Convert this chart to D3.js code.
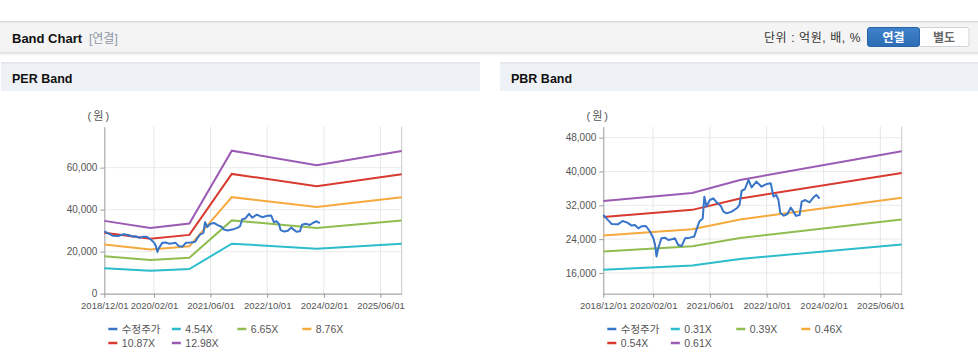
<!DOCTYPE html>
<html><head><meta charset="utf-8">
<script src="https://cdn.jsdelivr.net/npm/d3@7/dist/d3.min.js"></script>
<style>
body{margin:0;background:#fff;font-family:"Liberation Sans","Noto Sans CJK KR",sans-serif;}
svg{display:block}
</style></head><body>
<svg id="c" width="978" height="361"></svg>
<script>
// ---------- data ----------
const tickDates = ["2018-12-01","2020-02-01","2021-06-01","2022-10-01","2024-02-01","2025-06-01"];
const tickLabels = ["2018/12/01","2020/02/01","2021/06/01","2022/10/01","2024/02/01","2025/06/01"];

const priceDates = ["2018-12-01","2018-12-28","2019-02-10","2019-04-05","2019-05-15","2019-06-25","2019-08-01","2019-08-28","2019-09-28","2019-10-25","2019-12-01","2020-01-05","2020-02-03","2020-02-18","2020-03-01","2020-03-15","2020-04-12","2020-05-12","2020-06-10","2020-07-10","2020-08-05","2020-09-03","2020-10-03","2020-11-01","2020-12-12","2021-01-18","2021-02-10","2021-03-03","2021-04-01","2021-04-15","2021-05-03","2021-06-01","2021-07-01","2021-08-01","2021-09-03","2021-09-25","2021-10-25","2021-12-05","2022-01-18","2022-02-10","2022-03-01","2022-03-28","2022-04-28","2022-05-25","2022-07-05","2022-08-18","2022-10-03","2022-11-05","2022-11-28","2022-12-22","2023-01-10","2023-01-25","2023-02-25","2023-03-28","2023-04-25","2023-05-18","2023-06-10","2023-07-10","2023-07-28","2023-08-28","2023-10-03","2023-11-06","2023-12-01","2023-12-28"];
const priceValues = [29700,28900,27600,27500,28300,27900,27200,27350,26550,27050,27100,25800,24200,22600,19900,21800,24200,24350,23800,23950,24200,22600,22400,24200,24350,24600,26550,28150,28900,34050,31700,33250,33650,32650,31850,30500,30100,30500,31300,32100,35450,35800,38000,36250,37600,36400,37050,37200,34050,34450,33250,30250,29550,29950,31450,30500,29500,29700,32850,33250,32700,33900,34450,33600];

const perBandDates = ["2018-12-01","2020-01-01","2020-12-01","2021-12-01","2023-12-01","2025-12-01"];
const per454  = [12122,10919,11691,23812,21383,23767];
const per665  = [17756,15993,17124,34879,31322,34813];
const per876  = [23389,21068,22557,45946,41260,45859];
const per1087 = [29023,26142,27990,57013,51198,56904];
const per1298 = [34657,31217,33424,68080,61136,67950];
const perNames = ["수정주가","4.54X","6.65X","8.76X","10.87X","12.98X"];
const perTicks = [0,20000,40000,60000];

const pbrBandDates = ["2018-12-01","2021-01-01","2022-02-15","2025-12-01"];
const pbr031 = [16771,17754,19307,22754];
const pbr039 = [21099,22335,24289,28626];
const pbr046 = [24886,26344,28649,33764];
const pbr054 = [29214,30926,33631,39636];
const pbr061 = [33001,34935,37991,44774];
const pbrNames = ["수정주가","0.31X","0.39X","0.46X","0.54X","0.61X"];
const pbrTicks = [16000,24000,32000,40000,48000];

const colors = ["#3875c9","#2bbdcc","#8fbd50","#f6a93d","#d83a2f","#9b5bb3"];

// ---------- page chrome ----------
const svg = d3.select("#c");
const defs = svg.append("defs");
const sh = defs.append("linearGradient").attr("id","sh").attr("x1",0).attr("y1",0).attr("x2",0).attr("y2",1);
sh.append("stop").attr("offset","0%").attr("stop-color","#000").attr("stop-opacity",0.13);
sh.append("stop").attr("offset","100%").attr("stop-color","#000").attr("stop-opacity",0);
const bg = defs.append("linearGradient").attr("id","btn").attr("x1",0).attr("y1",0).attr("x2",0).attr("y2",1);
bg.append("stop").attr("offset","0%").attr("stop-color","#3f82cb");
bg.append("stop").attr("offset","100%").attr("stop-color","#2c6cb4");

svg.append("rect").attr("x",0).attr("y",52).attr("width",978).attr("height",4).attr("fill","url(#sh)");
svg.append("rect").attr("x",0).attr("y",21).attr("width",978).attr("height",31).attr("fill","#f4f4f4");
svg.append("rect").attr("x",0).attr("y",21).attr("width",978).attr("height",1.5).attr("fill","#dcdcdc");
svg.append("text").attr("x",12).attr("y",43).attr("font-size",13).attr("font-weight","bold").attr("fill","#111").text("Band Chart");
svg.append("text").attr("x",89).attr("y",43).attr("font-size",12).attr("fill","#8d97a6").text("[연결]");
svg.append("text").attr("x",861).attr("y",42).attr("text-anchor","end").attr("font-size",12).attr("letter-spacing",0.6).attr("fill","#333").text("단위 : 억원, 배, %");
svg.append("rect").attr("x",919).attr("y",27.5).attr("width",50).attr("height",19).attr("rx",2.5).attr("fill","#fff").attr("stroke","#cfd3d8");
svg.append("rect").attr("x",867.5).attr("y",27.5).attr("width",52).attr("height",19).attr("rx",2.5).attr("fill","url(#btn)").attr("stroke","#2a64a8");
svg.append("text").attr("x",893.5).attr("y",41.5).attr("text-anchor","middle").attr("font-size",12).attr("font-weight","bold").attr("fill","#fff").text("연결");
svg.append("text").attr("x",944).attr("y",41.5).attr("text-anchor","middle").attr("font-size",12).attr("font-weight","bold").attr("fill","#666").text("별도");

function subHeader(x, w, label){
  svg.append("rect").attr("x",x).attr("y",62).attr("width",w).attr("height",29).attr("fill","#eef1f6");
  svg.append("rect").attr("x",x).attr("y",62).attr("width",w).attr("height",1.5).attr("fill","#e1e4ea");
  svg.append("text").attr("x",x+11).attr("y",83).attr("font-size",12.5).attr("font-weight","bold").attr("fill","#111").text(label);
}
subHeader(1,479,"PER Band");
subHeader(500,478,"PBR Band");

// ---------- charts ----------
const parse = d3.utcParse("%Y-%m-%d");
const fmt = d3.format(",");

function chart(opt){
  const L = opt.left, R = opt.right, T = 126.67, B = 293.67;
  const x = d3.scaleUtc().domain([parse("2018-12-01"), parse("2025-12-01")]).range([L, R]);
  const y = d3.scaleLinear().domain(opt.yDomain).range([B, T]);
  const g = svg.append("g");

  // grid
  g.selectAll(".hg").data(opt.yTicks).join("line")
    .attr("x1",L).attr("x2",R).attr("y1",d=>y(d)).attr("y2",d=>y(d))
    .attr("stroke","#ebebeb").attr("stroke-width",1);
  g.selectAll(".vg").data(tickDates.slice(1)).join("line")
    .attr("x1",d=>x(parse(d))).attr("x2",d=>x(parse(d))).attr("y1",T).attr("y2",B)
    .attr("stroke","#e6e6e6").attr("stroke-width",1);
  g.append("line").attr("x1",R).attr("x2",R).attr("y1",T).attr("y2",B).attr("stroke","#c8c8c8");

  // axes
  const xa = d3.axisBottom(x).tickValues(tickDates.map(parse)).tickFormat((d,i)=>tickLabels[i]).tickSize(4).tickSizeOuter(0);
  const gx = g.append("g").attr("transform",`translate(0,${B})`).call(xa);
  gx.select(".domain").attr("stroke","#9a9a9a");
  gx.selectAll(".tick line").attr("stroke","#9a9a9a");
  gx.selectAll("text").attr("font-size",9.5).attr("fill","#555").attr("font-family","Liberation Sans").attr("dy","0.9em");

  const ya = d3.axisLeft(y).tickValues(opt.yTicks).tickFormat(fmt).tickSize(4).tickSizeOuter(0);
  const gy = g.append("g").attr("transform",`translate(${L},0)`).call(ya);
  gy.select(".domain").attr("stroke","#9a9a9a");
  gy.selectAll(".tick line").attr("stroke","#9a9a9a");
  gy.selectAll("text").attr("font-size",10).attr("fill","#555").attr("font-family","Liberation Sans");

  g.append("text").attr("x",L-5).attr("y",120).attr("text-anchor","middle").attr("font-size",11).attr("letter-spacing",2).attr("fill","#555").text("(원)");

  // bands
  const line = d3.line().x(d=>x(d[0])).y(d=>y(d[1]));
  opt.bands.forEach((vals,i)=>{
    const pts = opt.bandDates.map((d,j)=>[parse(d), vals[j]]);
    g.append("path").attr("d",line(pts)).attr("fill","none").attr("stroke",colors[i+1]).attr("stroke-width",2);
  });
  const pp = priceDates.map((d,j)=>[parse(d), priceValues[j]]);
  g.append("path").attr("d",line(pp)).attr("fill","none").attr("stroke",colors[0]).attr("stroke-width",2).attr("stroke-linejoin","round");

  // legend
  const cols = [4, 67.5, 133, 198];
  opt.names.forEach((n,i)=>{
    const cx = L + cols[i % 4], cy = i < 4 ? 329 : 343;
    g.append("line").attr("x1",cx).attr("x2",cx+9).attr("y1",cy).attr("y2",cy).attr("stroke",colors[i]).attr("stroke-width",2.5);
    g.append("text").attr("x",cx+13.5).attr("y",cy+3.8).attr("font-size",10.5).attr("fill","#555").text(n);
  });
}

chart({left:104.33, right:401.7, yDomain:[0,79500], yTicks:perTicks, bandDates:perBandDates,
  bands:[per454,per665,per876,per1087,per1298], names:perNames});
chart({left:603.3, right:901.7, yDomain:[11100,50600], yTicks:pbrTicks, bandDates:pbrBandDates,
  bands:[pbr031,pbr039,pbr046,pbr054,pbr061], names:pbrNames});
</script>
</body></html>
